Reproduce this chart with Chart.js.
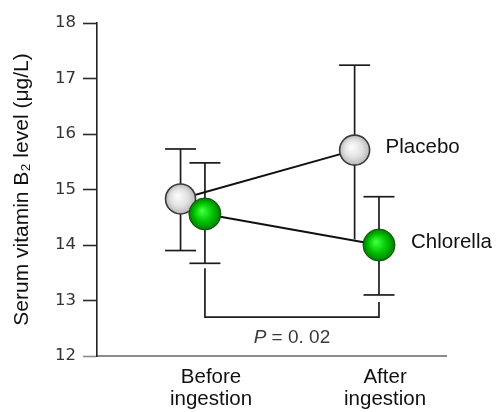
<!DOCTYPE html>
<html>
<head>
<meta charset="utf-8">
<script src="https://cdn.jsdelivr.net/npm/chart.js@4.4.1/dist/chart.umd.min.js"></script>
<style>
  html, body { margin: 0; padding: 0; background: #fff; }
</style>
</head>
<body>
<canvas id="chart" width="498" height="412"></canvas>
<script>
// values
const categories = [['Before', 'ingestion'], ['After', 'ingestion']];
const seriesNames = ['Placebo', 'Chlorella'];
const placeboMean = [14.83, 15.71];
const placeboUpper = [15.73, 17.24];
const placeboLower = [13.9, 14.1];
const chlorellaMean = [14.56, 14.0];
const chlorellaUpper = [15.48, 14.87];
const chlorellaLower = [13.67, 13.1];
const yTicks = [12, 13, 14, 15, 16, 17, 18];
const pValueText = '0. 02';
const bracketLevel = 12.7;

// small horizontal dodge per series (in category units)
const dodge = [-0.175, -0.035];
const series = [
  { mean: placeboMean, upper: placeboUpper, lower: placeboLower },
  { mean: chlorellaMean, upper: chlorellaUpper, lower: chlorellaLower }
];

function toPoints(vals, d) {
  return vals.map((v, i) => ({ x: i + dodge[d], y: v }));
}

function line(ctx, x1, y1, x2, y2) {
  ctx.beginPath();
  ctx.moveTo(x1, y1);
  ctx.lineTo(x2, y2);
  ctx.stroke();
}

const overlay = {
  id: 'overlay',
  beforeDatasetsDraw(chart) {
    const { ctx, scales: { x, y } } = chart;
    ctx.save();
    ctx.strokeStyle = '#1c1c1c';
    ctx.lineWidth = 1.7;
    const cap = 15.5;
    series.forEach((s, d) => {
      s.mean.forEach((m, i) => {
        const px = x.getPixelForValue(i + dodge[d]);
        const top = y.getPixelForValue(s.upper[i]);
        const bot = y.getPixelForValue(s.lower[i]);
        line(ctx, px, top, px, bot);
        line(ctx, px - cap, top, px + cap, top);
        // placebo's lower whisker after ingestion disappears behind the chlorella marker
        if (!(d === 0 && i === 1)) line(ctx, px - cap, bot, px + cap, bot);
      });
    });

    // significance bracket between chlorella points
    const xl = x.getPixelForValue(0 + dodge[1]);
    const xr = x.getPixelForValue(1 + dodge[1]);
    const yb = y.getPixelForValue(bracketLevel);
    const yl = y.getPixelForValue(chlorellaLower[0]) + 5;
    const yr = y.getPixelForValue(chlorellaLower[1]) + 7;
    ctx.beginPath();
    ctx.moveTo(xl, yl);
    ctx.lineTo(xl, yb);
    ctx.lineTo(xr, yb);
    ctx.lineTo(xr, yr);
    ctx.stroke();

    // P value text
    const italic = 'italic 19px "Liberation Sans", Arial, sans-serif';
    const normal = '19px "Liberation Sans", Arial, sans-serif';
    const rest = ' = ' + pValueText;
    ctx.font = italic;
    const wP = ctx.measureText('P').width;
    ctx.font = normal;
    const wR = ctx.measureText(rest).width;
    let tx = (xl + xr) / 2 - (wP + wR) / 2;
    const ty = yb + 21;
    ctx.fillStyle = '#3a3a3a';
    ctx.textBaseline = 'middle';
    ctx.textAlign = 'left';
    ctx.font = italic;
    ctx.fillText('P', tx, ty);
    ctx.font = normal;
    ctx.fillText(rest, tx + wP, ty);
    ctx.restore();
  },
  afterDatasetsDraw(chart) {
    const { ctx } = chart;
    ctx.save();
    const styles = [
      { r: 15, stops: ['#fbfbfb', '#e2e2e2', '#b8b8b8'], border: '#3a3a3a', bw: 1.6 },
      { r: 16, stops: ['#3cff3c', '#00c400', '#007a00'], border: '#0b4f0b', bw: 1 }
    ];
    chart.data.datasets.forEach((ds, d) => {
      const st = styles[d];
      const pts = chart.getDatasetMeta(d).data;
      pts.forEach(p => {
        const g = ctx.createRadialGradient(p.x - 3, p.y - 3, 1, p.x, p.y, st.r);
        g.addColorStop(0, st.stops[0]);
        g.addColorStop(0.55, st.stops[1]);
        g.addColorStop(1, st.stops[2]);
        ctx.beginPath();
        ctx.arc(p.x, p.y, st.r, 0, Math.PI * 2);
        ctx.fillStyle = g;
        ctx.fill();
        ctx.lineWidth = st.bw;
        ctx.strokeStyle = st.border;
        ctx.stroke();
      });
      const last = pts[pts.length - 1];
      ctx.font = '20.5px "Liberation Sans", Arial, sans-serif';
      ctx.fillStyle = '#111';
      ctx.textAlign = 'left';
      ctx.textBaseline = 'middle';
      ctx.fillText(ds.label, last.x + st.r + 16, last.y - 3);
    });
    ctx.restore();
  }
};

const ctx = document.getElementById('chart').getContext('2d');
const chart = new Chart(ctx, {
  type: 'line',
  data: {
    datasets: [
      {
        label: seriesNames[0],
        data: toPoints(placeboMean, 0),
        borderColor: '#111',
        borderWidth: 2,
        pointRadius: 0,
        tension: 0
      },
      {
        label: seriesNames[1],
        data: toPoints(chlorellaMean, 1),
        borderColor: '#111',
        borderWidth: 2,
        pointRadius: 0,
        tension: 0
      }
    ]
  },
  options: {
    responsive: false,
    animation: false,
    devicePixelRatio: 1,
    layout: { padding: { left: 0, right: 52, top: 23, bottom: 0 } },
    plugins: {
      legend: { display: false },
      tooltip: { enabled: false }
    },
    scales: {
      x: {
        type: 'linear',
        min: -0.655,
        max: 1.35,
        afterBuildTicks: (scale) => { scale.ticks = categories.map((c, i) => ({ value: i })); },
        afterFit: (scale) => { scale.height = 56; },
        ticks: {
          callback: (v) => categories[v],
          padding: 10,
          color: '#111',
          maxRotation: 0,
          autoSkip: false,
          font: { family: '"Liberation Sans", Arial, sans-serif', size: 20.5, lineHeight: 1.1 }
        },
        grid: { display: true, drawOnChartArea: false, drawTicks: false },
        border: { display: true, color: '#8c8c8c', width: 2 }
      },
      y: {
        min: 12,
        max: 18,
        afterBuildTicks: (scale) => { scale.ticks = yTicks.map(v => ({ value: v })); },
        afterFit: (scale) => { scale.width = 97; },
        ticks: {
          padding: 7,
          color: '#333',
          font: { family: '"DejaVu Sans", sans-serif', size: 16.5 }
        },
        grid: {
          drawOnChartArea: false,
          drawTicks: true,
          tickLength: 14,
          tickWidth: 1.6,
          tickColor: (c) => (c.tick && c.tick.value === 12 ? '#8c8c8c' : '#2a2a2a')
        },
        border: { display: true, color: '#222', width: 1.6 },
        title: {
          display: true,
          text: 'Serum vitamin B\u2082 level (\u03bcg/L)',
          color: '#111',
          padding: { top: 10, bottom: 0 },
          font: { family: '"Liberation Sans", Arial, sans-serif', size: 21 }
        }
      }
    }
  },
  plugins: [overlay]
});
</script>
</body>
</html>
